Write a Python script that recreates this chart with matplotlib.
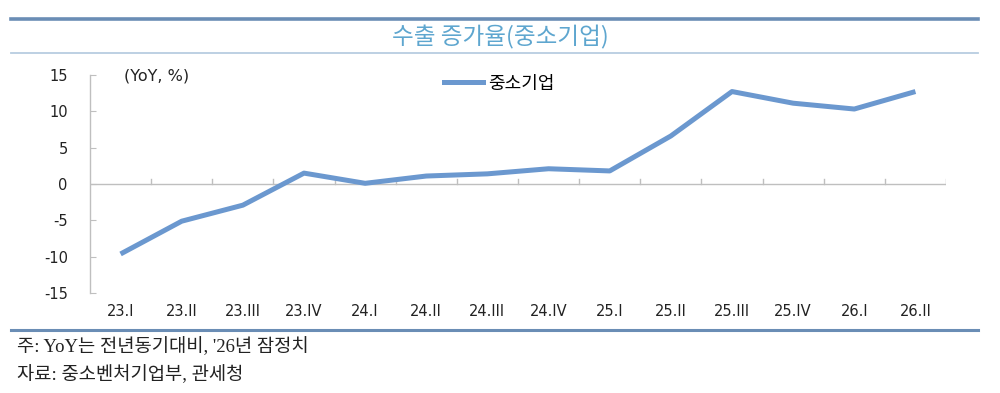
import matplotlib
matplotlib.use("Agg")
import matplotlib.pyplot as plt
from matplotlib.lines import Line2D

plt.rcParams['font.family'] = ['DejaVu Sans', 'Noto Sans CJK KR']

categories = ["23.I", "23.II", "23.III", "23.IV", "24.I", "24.II", "24.III", "24.IV",
              "25.I", "25.II", "25.III", "25.IV", "26.I", "26.II"]
values = [-9.6, -5.1, -2.9, 1.5, 0.1, 1.1, 1.4, 2.1, 1.8, 6.6, 12.7, 11.1, 10.3, 12.7]
yticks = [-15, -10, -5, 0, 5, 10, 15]

title = "수출 증가율(중소기업)"
series_name = "중소기업"
unit_label = "(YoY, %)"
note1 = "주: YoY는 전년동기대비, '26년 잠정치"
note2 = "자료: 중소벤처기업부, 관세청"

line_color = "#6b98cf"
axis_color = "#bfbfbf"

fig = plt.figure(figsize=(10, 3.93), dpi=100)
ax = fig.add_axes([0.09, 0.2537, 0.856, 0.556])

x = list(range(len(categories)))
ax.plot(x, values, color=line_color, lw=3.6, solid_capstyle='butt', zorder=3)
ax.set_xlim(-0.5, len(categories) - 0.5)
ax.set_ylim(-15, 15)

for s in ['top', 'right', 'bottom']:
    ax.spines[s].set_visible(False)
ax.spines['left'].set_color(axis_color)
ax.spines['left'].set_linewidth(1.0)
ax.set_yticks(yticks)
ax.set_yticklabels([str(v) for v in yticks], fontsize=10.5, color='#222222')
ax.tick_params(axis='y', direction='in', length=4, color=axis_color, pad=16)

# zero line with category boundary ticks
ax.axhline(0, color=axis_color, lw=1.0, zorder=1)
for b in range(1, len(categories) + 1):
    ax.plot([b - 0.5, b - 0.5], [0, 0.7], color=axis_color, lw=1.0, zorder=1)

ax.set_xticks(x)
ax.set_xticklabels(categories, fontsize=10.5, color='#222222')
ax.tick_params(axis='x', length=0, pad=8)

ax.text(0.04, 0.995, unit_label, transform=ax.transAxes, fontsize=11.5, va='center', ha='left', color='#222222')

leg = ax.legend([Line2D([0], [0], color=line_color, lw=3.6)], [series_name],
                loc='upper left', bbox_to_anchor=(0.394, 1.075), frameon=False,
                handlelength=2.2, handletextpad=0.25, prop={'family': 'Noto Sans CJK KR', 'size': 13})

# Header rules and title
fig.add_artist(Line2D([0.011, 0.978], [1 - 19 / 393, 1 - 19 / 393], color='#6a8db5', lw=2.6))
fig.add_artist(Line2D([0.011, 0.978], [1 - 53 / 393, 1 - 53 / 393], color='#b8cde0', lw=1.3))
fig.text(0.5, 1 - 37 / 393, title, ha='center', va='center', fontsize=17,
         color='#5ea6cf', family='Noto Sans CJK KR', weight='light')

# Bottom rule and notes
fig.add_artist(Line2D([0.011, 0.978], [1 - 330 / 393, 1 - 330 / 393], color='#6a8db5', lw=2.2))
fig.text(0.017, 1 - 347 / 393, note1, ha='left', va='center', fontsize=13.5,
         color='#222222', family=['Liberation Serif', 'Noto Sans CJK KR'])
fig.text(0.017, 1 - 375 / 393, note2, ha='left', va='center', fontsize=13.5,
         color='#222222', family=['Liberation Serif', 'Noto Sans CJK KR'])

fig.savefig("out.png", dpi=100)
